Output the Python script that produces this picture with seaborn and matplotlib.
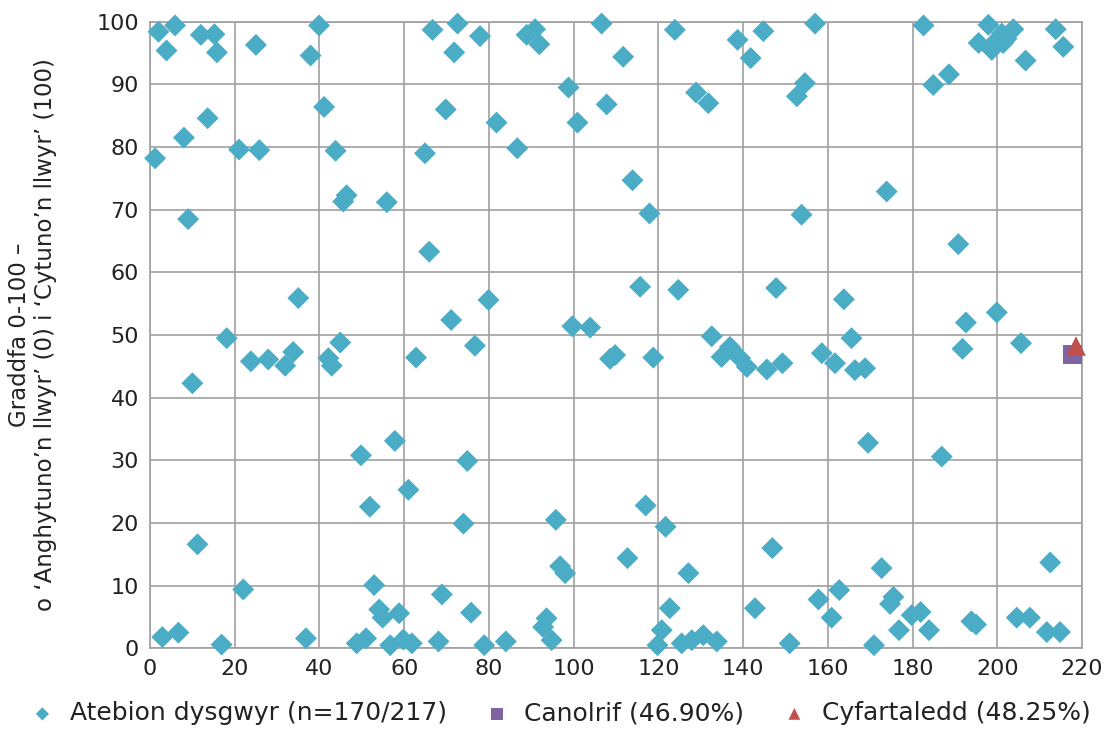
import numpy as np
import pandas as pd
import matplotlib
matplotlib.use("Agg")
import matplotlib.pyplot as plt
import seaborn as sns

# learner responses (x = respondent index, y = score 0-100)
resp_x = [2.0, 5.9, 3.9, 12.0, 15.2, 15.8, 25.0, 37.9, 13.6, 8.0, 1.2, 21.0, 25.8, 9.0, 35.0,
          18.1, 10.0, 23.8, 27.9, 31.9, 33.8, 11.2, 22.0, 2.9, 6.7, 16.9, 36.8, 39.9, 66.7, 72.6,
          71.8, 41.1, 69.8, 43.8, 64.9, 46.4, 45.6, 55.9, 65.9, 71.1, 44.9, 42.1, 42.9, 62.8, 57.8,
          49.8, 74.9, 61.0, 51.9, 74.0, 52.9, 68.9, 54.1, 54.9, 58.8, 48.8, 51.0, 56.7, 59.8, 61.8,
          68.1, 75.8, 77.9, 88.9, 90.9, 91.9, 106.6, 111.7, 98.8, 107.8, 81.8, 100.9, 86.7, 113.9, 79.9,
          99.7, 103.9, 76.7, 108.6, 109.8, 95.8, 96.8, 98.0, 112.7, 78.9, 84.0, 93.6, 92.8, 94.8,
          123.9, 138.7, 144.8, 141.8, 128.9, 131.8, 117.9, 115.7, 124.7, 147.8, 132.6, 118.8, 134.9,
          136.9, 139.3, 140.9, 145.6, 149.3, 117.0, 121.7, 146.9, 127.1, 122.7, 142.8, 120.8, 119.8,
          125.5, 127.9, 130.6, 133.8, 151.0, 157.0, 154.6, 152.7, 182.6, 184.9, 188.6, 173.9, 153.8,
          163.8, 165.6, 158.6, 161.7, 166.4, 168.8, 169.5, 186.9, 172.7, 157.8, 162.7, 160.9, 175.5,
          174.7, 179.8, 181.9, 176.8, 183.9, 170.9, 197.9, 195.6, 198.7, 201.4, 203.8, 201.1, 202.2,
          206.7, 213.8, 215.6, 190.8, 192.6, 199.9, 191.8, 205.6, 212.5, 193.9, 195.0, 204.6, 207.7,
          211.7, 214.8, 199.8]
resp_y = [98.4, 99.4, 95.4, 97.9, 98.0, 95.1, 96.3, 94.6, 84.6, 81.5, 78.2, 79.6, 79.5, 68.5, 55.9,
          49.5, 42.3, 45.8, 46.1, 45.1, 47.3, 16.6, 9.4, 1.8, 2.5, 0.6, 1.6, 99.4, 98.7, 99.7,
          95.1, 86.4, 86.0, 79.4, 79.0, 72.3, 71.3, 71.2, 63.3, 52.4, 48.8, 46.3, 45.1, 46.4, 33.1,
          30.8, 29.9, 25.3, 22.6, 19.9, 10.1, 8.6, 6.2, 4.9, 5.6, 0.8, 1.6, 0.5, 1.4, 0.8,
          1.1, 5.7, 97.7, 97.9, 98.8, 96.4, 99.7, 94.4, 89.5, 86.8, 83.9, 83.9, 79.8, 74.7, 55.6,
          51.4, 51.2, 48.3, 46.2, 46.8, 20.5, 13.1, 12.0, 14.4, 0.5, 1.1, 4.8, 3.4, 1.3,
          98.7, 97.1, 98.5, 94.2, 88.7, 87.0, 69.4, 57.7, 57.2, 57.5, 49.8, 46.4, 46.5,
          48.1, 46.3, 44.9, 44.5, 45.5, 22.8, 19.4, 16.0, 12.0, 6.4, 6.4, 2.9, 0.5,
          0.8, 1.3, 2.1, 1.1, 0.8, 99.7, 90.2, 88.1, 99.4, 89.9, 91.6, 72.9, 69.2,
          55.7, 49.5, 47.1, 45.5, 44.4, 44.7, 32.8, 30.6, 12.8, 7.8, 9.3, 4.9, 8.2,
          7.1, 5.3, 5.8, 2.9, 2.9, 0.5, 99.5, 96.6, 95.5, 96.6, 98.8, 98.1, 97.3,
          93.8, 98.8, 96.0, 64.5, 52.0, 53.6, 47.8, 48.7, 13.7, 4.3, 3.8, 4.9, 4.9,
          2.6, 2.6, 97.0]

median_x = [217.8]
median_y = [46.90]
mean_x = [218.6]
mean_y = [48.25]

df = pd.DataFrame({"x": resp_x, "y": resp_y})

sns.set_style("white")
plt.rcParams['font.family'] = ['DejaVu Sans']

fig = plt.figure(figsize=(11.08, 7.51), dpi=100)
ax = fig.add_axes([0.1354, 0.1367, 0.8411, 0.8344])

blue = "#4BACC6"
sns.scatterplot(data=df, x="x", y="y", marker="D", s=125, color=blue, edgecolor="none",
                ax=ax, clip_on=False, zorder=3, label="Atebion dysgwyr (n=170/217)")
ax.scatter(median_x, median_y, marker="s", s=190, color="#8064A2", edgecolor="none",
           clip_on=False, zorder=4, label="Canolrif (46.90%)")
ax.scatter(mean_x, mean_y, marker="^", s=200, color="#C0504D", edgecolor="none",
           clip_on=False, zorder=5, label="Cyfartaledd (48.25%)")

ax.set_xlim(0, 220)
ax.set_ylim(0, 100)
ax.set_xticks(range(0, 221, 20))
ax.set_yticks(range(0, 101, 10))
ax.grid(True, color="#A0A0A0", linewidth=1.2)
ax.set_axisbelow(True)
for sp in ax.spines.values():
    sp.set_color("#A0A0A0")
    sp.set_linewidth(1.2)
ax.tick_params(labelsize=16, length=0, pad=8, colors="#222222")
ax.set_xlabel("")
ax.set_ylabel("Graddfa 0-100 \u2013\no \u2018Anghytuno\u2019n llwyr\u2019 (0) i \u2018Cytuno\u2019n llwyr\u2019 (100)",
              fontsize=16.5, color="#222222", labelpad=28, linespacing=1.2)

ax.legend_.remove()
handles, labels = ax.get_legend_handles_labels()
fig.legend(handles, labels, loc="center", bbox_to_anchor=(0.5, 0.05), ncol=3, frameon=False,
           fontsize=18, markerscale=0.6, handletextpad=0.1, columnspacing=1.0,
           labelcolor="#222222")

fig.savefig("out.png", dpi=100)
